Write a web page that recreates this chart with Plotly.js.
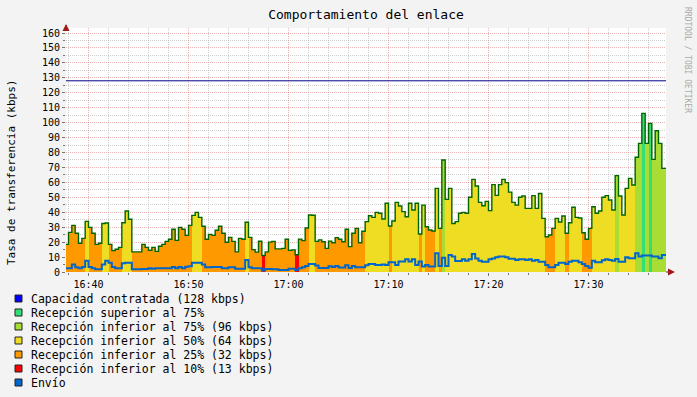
<!DOCTYPE html>
<html><head><meta charset="utf-8">
<script src="https://cdn.plot.ly/plotly-3.0.1.min.js"></script>
<style>html,body{margin:0;padding:0;background:#f3f3f3}#chart{width:697px;height:397px}</style>
</head><body><div id="chart"></div>
<script>
// ---------------- data ----------------
const START_UTC = Date.UTC(2024, 0, 1, 16, 37, 40);   // first 20 s step
const STEP_SECONDS = 20;
const CAPACIDAD = 128;                                   // kbps
const umbrales = [13, 32, 64, 96];                       // 10%, 25%, 50%, 75%

const recepcion = [
 18.5,26.5,31.2,25.9,19.2,22.5,33.9,29.9,25.9,18.5,
 19.2,32.5,32.8,18.5,14.3,15.2,16.5,33.0,40.8,35.3,
 13.5,13.5,13.5,18.5,16.5,14.5,16.5,13.8,17.2,18.5,
 20.5,21.9,28.6,21.2,29.9,28.6,24.5,31.2,37.9,39.9,
 36.6,30.6,21.9,25.2,24.5,27.9,30.6,25.9,19.9,23.2,
 20.5,13.5,22.5,21.9,33.3,23.2,15.0,13.3,20.6,11.0,
 13.5,20.0,20.5,15.5,15.5,15.8,21.9,14.5,14.8,11.5,
 22.0,21.0,29.5,38.2,38.0,20.5,21.5,20.3,15.8,20.7,
 19.6,23.0,21.9,20.3,28.6,17.0,25.9,29.2,19.6,27.3,
 33.7,37.7,36.6,39.9,39.3,35.5,46.0,30.8,34.1,46.6,
 44.2,40.4,37.0,46.0,41.5,46.0,25.4,44.8,30.3,28.1,
 27.4,56.0,29.2,75.0,48.6,56.0,32.5,33.7,39.3,39.9,
 39.3,50.0,62.0,57.6,46.6,44.4,47.3,41.1,58.5,51.3,
 58.5,62.0,59.8,53.5,46.6,44.8,50.0,50.9,42.6,42.6,
 51.1,42.6,52.6,35.9,23.6,24.8,29.2,35.9,33.5,37.5,
 25.9,33.0,43.3,36.6,36.2,26.3,21.9,29.2,43.7,39.3,
 40.8,50.0,51.1,48.2,41.5,64.5,50.9,38.2,56.0,62.7,
 58.2,76.8,86.1,106.2,86.1,99.5,75.4,94.6,86.1,69.4,
 69.4
];

const envio = [
 2.5,2.5,5.1,3.1,2.5,3.3,7.6,3.3,2.5,1.8,
 1.8,5.1,7.6,6.2,3.3,2.5,2.5,5.8,6.2,6.2,
 1.8,1.8,1.8,2.0,2.0,2.5,2.2,2.5,2.5,2.5,
 2.5,2.5,3.3,2.5,3.3,2.5,3.5,3.9,6.2,6.2,
 6.2,5.1,3.1,3.1,3.3,3.3,3.3,2.5,2.5,3.1,
 3.1,2.2,2.2,2.2,8.0,3.1,2.5,2.5,2.5,1.0,
 2.0,2.0,1.8,1.8,1.3,1.3,1.3,2.2,2.2,1.3,
 2.5,3.1,4.0,5.4,5.4,4.4,2.7,2.7,2.7,3.8,
 3.3,4.0,3.0,3.0,4.6,2.7,4.0,3.1,3.1,3.1,
 4.5,5.4,5.4,4.7,4.7,5.0,4.7,6.5,6.5,4.7,
 7.0,7.0,8.5,7.0,8.5,4.7,7.0,3.6,4.7,3.6,
 3.6,12.5,4.0,9.6,4.0,11.4,10.3,7.4,7.4,8.5,
 7.6,8.5,12.0,9.1,7.6,6.9,6.9,8.5,9.1,9.8,
 10.3,10.3,9.8,8.9,8.9,8.0,8.5,8.5,8.0,8.5,
 7.6,8.0,6.9,6.9,4.7,3.1,3.1,4.7,6.2,6.2,
 5.4,6.9,7.6,7.6,6.5,5.4,4.0,2.9,7.6,6.5,
 6.5,7.8,8.5,8.0,7.6,8.7,6.9,6.9,9.8,9.2,
 9.2,12.5,10.3,11.0,11.0,11.0,10.3,10.3,9.2,11.4,
 11.4
];

const legendLabels = [
 "Capacidad contratada (128 kbps)",
 "Recepción superior al 75%",
 "Recepción inferior al 75% (96 kbps)",
 "Recepción inferior al 50% (64 kbps)",
 "Recepción inferior al 25% (32 kbps)",
 "Recepción inferior al 10% (13 kbps)",
 "Envío"
];
const titulo = "Comportamiento del enlace";
const tituloY = "Tasa de transferencia (kbps)";
const firma = "RRDTOOL / TOBI OETIKER";

// ---------------- styles ----------------
const C_CAP = "#0000ff", C_SUP75 = "#33dd77", C_INF75 = "#aadd33",
      C_INF50 = "#eedd22", C_INF25 = "#ff9900", C_INF10 = "#ff0000", C_ENV = "#0066cc";
const legendColors = [C_CAP, C_SUP75, C_INF75, C_INF50, C_INF25, C_INF10, C_ENV];
const bandColors = [C_INF10, C_INF25, C_INF50, C_INF75, C_SUP75];
const FONT = "DejaVu Sans Mono";

const STEP_MS = STEP_SECONDS * 1000;
const tStep = recepcion.map((_, i) => START_UTC + i * STEP_MS);
const tCenter = tStep.map(t => t + STEP_MS / 2);

function banda(v) {
  let k = 0;
  while (k < umbrales.length && v >= umbrales[k]) k++;
  return k;
}

const traces = [];
bandColors.forEach((col, k) => {
  traces.push({
    type: "bar", x: tCenter,
    y: recepcion.map(v => banda(v) === k ? v : null),
    width: STEP_MS, marker: {color: col, line: {width: 0}},
    hoverinfo: "skip", showlegend: false
  });
});
const tLine = tStep.concat([START_UTC + recepcion.length * STEP_MS]);
traces.push({
  type: "scatter", mode: "lines", x: tLine,
  y: recepcion.concat([recepcion[recepcion.length - 1]]),
  line: {shape: "hv", color: "#006400", width: 1.4}, hoverinfo: "skip", showlegend: false
});
traces.push({
  type: "scatter", mode: "lines", x: tLine,
  y: envio.concat([envio[envio.length - 1]]),
  line: {shape: "hv", color: C_ENV, width: 2}, hoverinfo: "skip", showlegend: false
});

// ---------------- layout ----------------
const W = 697, H = 397;
const PL = 66, PR = 666, PT = 28, PB = 272;
const px = x => (x - PL) / (PR - PL);
const py = y => (PB - y) / (PB - PT);

const shapes = [
  {type: "line", xref: "paper", yref: "y", x0: 0, x1: 1, y0: CAPACIDAD, y1: CAPACIDAD,
   line: {color: "#00008b", width: 1}},
  {type: "line", xref: "paper", yref: "paper", x0: px(PL), x1: px(PL), y0: 1, y1: py(25),
   line: {color: "#777777", width: 1.5}},
  {type: "path", xref: "paper", yref: "paper",
   path: `M ${px(62.5)} ${py(31)} L ${px(69.5)} ${py(31)} L ${px(66)} ${py(24)} Z`,
   fillcolor: "#a01818", line: {width: 0}},
  {type: "line", xref: "paper", yref: "paper", x0: 1, x1: px(671), y0: 0, y1: 0,
   line: {color: "#777777", width: 1.5}},
  {type: "path", xref: "paper", yref: "paper",
   path: `M ${px(668)} ${py(268.5)} L ${px(668)} ${py(275.5)} L ${px(675)} ${py(272)} Z`,
   fillcolor: "#a01818", line: {width: 0}}
];
const annotations = [
  {xref: "paper", yref: "paper", x: px(12), y: py(173), text: tituloY, textangle: -90,
   showarrow: false, font: {family: FONT, size: 11, color: "#000"}, xanchor: "center", yanchor: "middle"},
  {xref: "paper", yref: "paper", x: px(688), y: py(60), text: firma, textangle: 90,
   showarrow: false, font: {family: FONT, size: 8, color: "#aaaaaa"}, xanchor: "center", yanchor: "middle"}
];
legendLabels.forEach((lab, i) => {
  const yc = 298.5 + i * 14;
  shapes.push({type: "rect", xref: "paper", yref: "paper",
    x0: px(15), x1: px(22), y0: py(yc - 3.5), y1: py(yc + 3.5),
    fillcolor: legendColors[i], line: {color: "#222222", width: 1}});
  annotations.push({xref: "paper", yref: "paper", x: px(29), y: py(yc), text: lab,
    showarrow: false, xanchor: "left", yanchor: "middle",
    font: {family: FONT, size: 11.5, color: "#000"}});
});

const MAJOR = "rgba(220,120,120,0.55)", MINOR = "rgba(170,170,170,0.55)";
const layout = {
  width: W, height: H,
  margin: {l: PL, r: W - PR, t: PT, b: H - PB, pad: 0},
  paper_bgcolor: "#f3f3f3", plot_bgcolor: "#ffffff",
  showlegend: false, hovermode: false, bargap: 0, barmode: "overlay",
  title: {text: titulo, font: {family: FONT, size: 13, color: "#000"},
          xref: "paper", x: 0.5, xanchor: "center", yref: "container", y: 1 - 14 / H, yanchor: "middle"},
  xaxis: {
    type: "date", range: [START_UTC + 5000, START_UTC + 5000 + 3600000],
    tick0: Date.UTC(2024, 0, 1, 16, 40), dtick: 600000, tickformat: "%H:%M",
    showgrid: true, gridcolor: MAJOR, griddash: "1px,1px", gridwidth: 1,
    minor: {dtick: 120000, showgrid: true, gridcolor: MINOR, griddash: "1px,1px", gridwidth: 1,
            ticks: "outside", ticklen: 2, tickcolor: "#777"},
    ticks: "outside", ticklen: 3, tickcolor: "#777",
    showline: false, zeroline: false,
    tickfont: {family: FONT, size: 10, color: "#000"}, fixedrange: true
  },
  yaxis: {
    range: [0, (PB - PT) / ((PB - 33) / 160)], tick0: 0, dtick: 10,
    showgrid: true, gridcolor: MAJOR, griddash: "1px,1px", gridwidth: 1,
    minor: {dtick: 5, showgrid: true, gridcolor: MINOR, griddash: "1px,1px", gridwidth: 1,
            ticks: "outside", ticklen: 2, tickcolor: "#777"},
    ticks: "outside", ticklen: 3, tickcolor: "#777",
    showline: false, zeroline: false,
    tickfont: {family: FONT, size: 10, color: "#000"}, fixedrange: true
  },
  shapes: shapes, annotations: annotations
};

Plotly.newPlot("chart", traces, layout, {displayModeBar: false, staticPlot: true});
</script>
</body></html>
